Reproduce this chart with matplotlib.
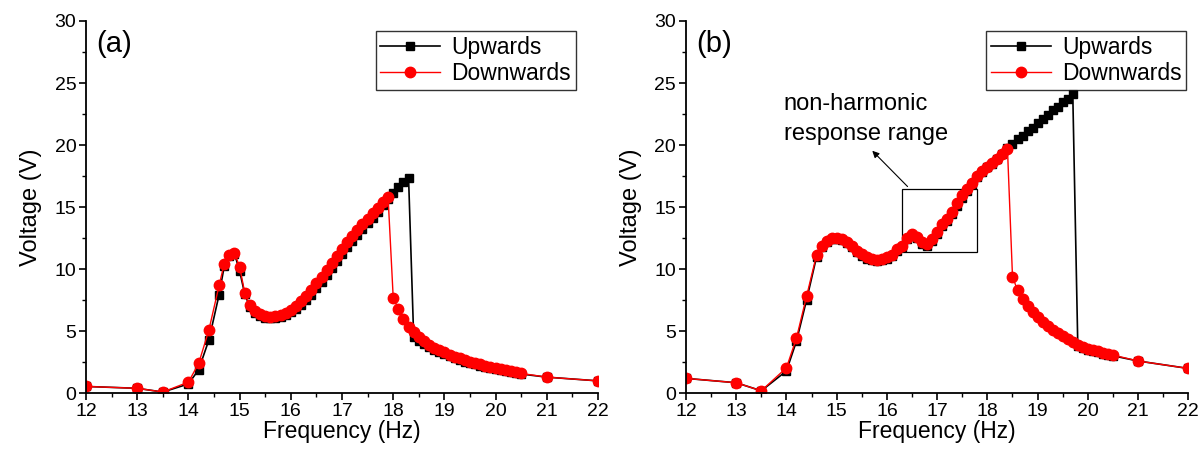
import matplotlib
matplotlib.use("Agg")
import matplotlib.pyplot as plt
from matplotlib.patches import Rectangle
from matplotlib.ticker import MultipleLocator

plt.rcParams['font.family'] = ['Liberation Sans', 'DejaVu Sans']

# frequency sweep points (Hz), same for all curves
freq = [12, 13, 13.5, 14, 14.2, 14.4, 14.6, 14.7, 14.8, 14.9,
        15.0, 15.1, 15.2, 15.3, 15.4, 15.5, 15.6, 15.7, 15.8, 15.9,
        16.0, 16.1, 16.2, 16.3, 16.4, 16.5, 16.6, 16.7, 16.8, 16.9,
        17.0, 17.1, 17.2, 17.3, 17.4, 17.5, 17.6, 17.7, 17.8, 17.9,
        18.0, 18.1, 18.2, 18.3, 18.4, 18.5, 18.6, 18.7, 18.8, 18.9,
        19.0, 19.1, 19.2, 19.3, 19.4, 19.5, 19.6, 19.7, 19.8, 19.9,
        20.0, 20.1, 20.2, 20.3, 20.4, 20.5, 21, 22]

# (a) voltages
a_up = [0.55, 0.4, 0.1, 0.75, 1.9, 4.3, 7.95, 10.25, 11.1, 11.25,
        9.85, 8.0, 6.95, 6.5, 6.25, 6.1, 6.05, 6.07, 6.17, 6.33,
        6.55, 6.82, 7.15, 7.5, 7.95, 8.45, 9.0, 9.55, 10.1, 10.65,
        11.2, 11.75, 12.25, 12.75, 13.25, 13.7, 14.15, 14.6, 15.2, 15.65,
        16.1, 16.6, 17.05, 17.35, 4.5, 4.2, 3.95, 3.7, 3.48, 3.3,
        3.13, 2.97, 2.82, 2.68, 2.55, 2.43, 2.32, 2.22, 2.12, 2.03,
        1.94, 1.86, 1.78, 1.7, 1.62, 1.55, 1.3, 1.0]
a_down = [0.55, 0.4, 0.1, 0.9, 2.4, 5.1, 8.7, 10.45, 11.15, 11.3,
          10.2, 8.1, 7.1, 6.6, 6.35, 6.22, 6.17, 6.2, 6.32, 6.5,
          6.75, 7.05, 7.4, 7.8, 8.3, 8.85, 9.4, 9.95, 10.5, 11.1,
          11.65, 12.15, 12.65, 13.15, 13.6, 14.05, 14.5, 14.95, 15.4, 15.8,
          7.7, 6.8, 6.0, 5.35, 4.9, 4.5, 4.2, 3.9, 3.65, 3.45,
          3.3, 3.12, 2.96, 2.82, 2.68, 2.55, 2.44, 2.33, 2.23, 2.14,
          2.05, 1.96, 1.87, 1.78, 1.68, 1.6, 1.3, 1.0]

# (b) voltages
b_up = [1.2, 0.85, 0.2, 1.8, 4.2, 7.5, 11.0, 11.8, 12.2, 12.4,
        12.45, 12.35, 12.1, 11.75, 11.4, 11.1, 10.85, 10.7, 10.65, 10.7,
        10.85, 11.05, 11.45, 11.8, 12.4, 12.7, 12.5, 12.05, 11.9, 12.25,
        12.85, 13.45, 13.9, 14.45, 15.1, 15.75, 16.3, 16.85, 17.4, 17.85,
        18.2, 18.5, 18.85, 19.25, 19.75, 20.1, 20.45, 20.75, 21.1, 21.4,
        21.75, 22.1, 22.45, 22.8, 23.1, 23.45, 23.75, 24.1, 3.8, 3.65,
        3.5, 3.4, 3.3, 3.2, 3.1, 3.02, 2.6, 2.0]
b_down = [1.2, 0.85, 0.2, 2.05, 4.45, 7.8, 11.15, 11.9, 12.3, 12.5,
          12.55, 12.45, 12.2, 11.85, 11.5, 11.2, 10.95, 10.8, 10.75, 10.8,
          10.95, 11.15, 11.6, 11.9, 12.55, 12.8, 12.6, 12.15, 12.0, 12.4,
          13.0, 13.6, 14.05, 14.6, 15.3, 15.95, 16.45, 16.95, 17.5, 17.95,
          18.25, 18.55, 18.9, 19.3, 19.7, 9.4, 8.3, 7.6, 7.05, 6.55,
          6.15, 5.75, 5.4, 5.1, 4.85, 4.6, 4.35, 4.1, 3.9, 3.75,
          3.6, 3.48, 3.38, 3.27, 3.17, 3.08, 2.6, 2.0]

fig = plt.figure(figsize=(12.03, 4.51), dpi=100)
ax1 = fig.add_axes([0.0715, 0.128, 0.4256, 0.8255])
ax2 = fig.add_axes([0.5702, 0.128, 0.4176, 0.8255])

# legend anchor differs a bit between panels
panels = [(ax1, a_up, a_down, '(a)', 0.965), (ax2, b_up, b_down, '(b)', 1.005)]
for ax, up, down, tag, lx in panels:
    ax.plot(freq, up, color='black', lw=1.2, marker='s', ms=6,
            mec='black', mfc='black', label='Upwards')
    ax.plot(freq, down, color='red', lw=1.0, marker='o', ms=7.5,
            mec='red', mfc='red', label='Downwards')
    ax.set_xlim(12, 22)
    ax.set_ylim(0, 30)
    ax.xaxis.set_major_locator(MultipleLocator(1))
    ax.xaxis.set_minor_locator(MultipleLocator(0.5))
    ax.yaxis.set_major_locator(MultipleLocator(5))
    ax.yaxis.set_minor_locator(MultipleLocator(2.5))
    ax.spines['top'].set_visible(False)
    ax.spines['right'].set_visible(False)
    for s in ['left', 'bottom']:
        ax.spines[s].set_linewidth(1.3)
    ax.tick_params(which='major', direction='out', length=5, width=1.2, labelsize=14, pad=2)
    ax.tick_params(which='minor', direction='out', length=3, width=1.0)
    ax.set_xlabel('Frequency (Hz)', fontsize=16.5, labelpad=0)
    ax.set_ylabel('Voltage (V)', fontsize=17, labelpad=9)
    ax.text(0.02, 0.975, tag, transform=ax.transAxes, fontsize=21, va='top', ha='left')
    leg = ax.legend(loc='upper right', bbox_to_anchor=(lx, 0.985), fontsize=16.5,
                    frameon=True, fancybox=False, edgecolor='black', handlelength=2.6,
                    borderpad=0.2, labelspacing=0.15, handletextpad=0.5, borderaxespad=0.2)
    leg.get_frame().set_linewidth(1.0)

# (b) annotation of the non-harmonic window
ax2.add_patch(Rectangle((16.3, 11.35), 1.5, 5.15, fill=False, ec='black', lw=0.9))
ax2.annotate('', xy=(15.67, 19.7), xytext=(16.45, 16.5),
             arrowprops=dict(arrowstyle='-|>', color='black', lw=0.8, mutation_scale=10))
ax2.text(13.95, 22.1, 'non-harmonic\nresponse range', fontsize=17, ha='left',
         va='center', multialignment='left', linespacing=1.45)

fig.savefig('out.png', dpi=100)
